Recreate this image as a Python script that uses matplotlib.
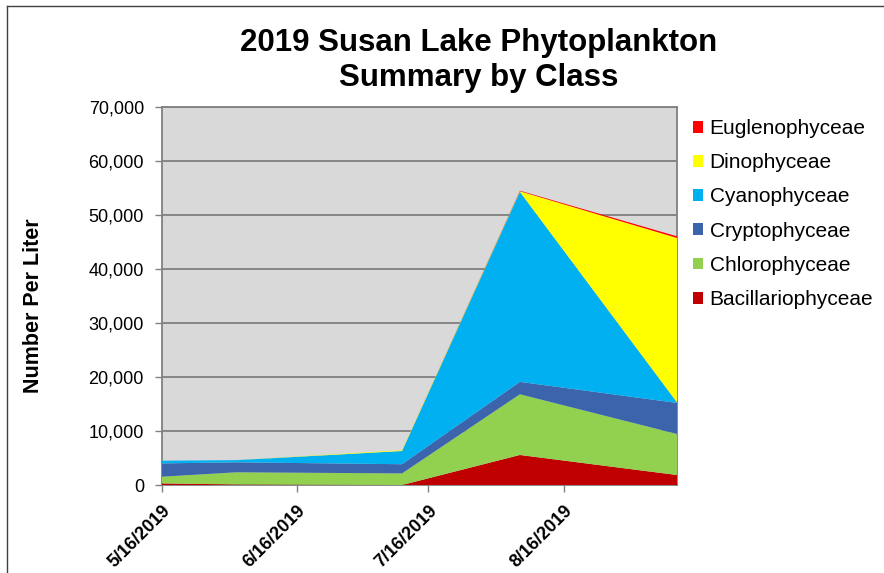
import matplotlib
matplotlib.use("Agg")
import matplotlib.pyplot as plt
from matplotlib.patches import Patch
from matplotlib.lines import Line2D
import datetime as dt

plt.rcParams['font.family'] = ['Liberation Sans', 'DejaVu Sans']

dates = ["2019-05-16", "2019-06-02", "2019-07-10", "2019-08-06", "2019-09-11"]
classes = ["Bacillariophyceae", "Chlorophyceae", "Cryptophyceae",
           "Cyanophyceae", "Dinophyceae", "Euglenophyceae"]
bacillariophyceae = [300, 100, 0, 5560, 1850]
chlorophyceae = [1240, 2250, 2150, 11240, 7600]
cryptophyceae = [2460, 1850, 1700, 2300, 5750]
cyanophyceae = [500, 400, 2450, 35200, 100]
dinophyceae = [0, 0, 150, 100, 30450]
euglenophyceae = [0, 0, 0, 100, 300]
colors = ["#C00000", "#92D050", "#3B64AD", "#00B0F0", "#FFFF00", "#FF0000"]
tick_dates = ["2019-05-16", "2019-06-16", "2019-07-16", "2019-08-16"]
tick_labels = ["5/16/2019", "6/16/2019", "7/16/2019", "8/16/2019"]

x = [dt.datetime.strptime(d, "%Y-%m-%d") for d in dates]
series = [bacillariophyceae, chlorophyceae, cryptophyceae,
          cyanophyceae, dinophyceae, euglenophyceae]

fig = plt.figure(figsize=(8.84, 5.73), dpi=100)
ax = fig.add_axes([162/884, 1-485/573, (677-162)/884, (485-107)/573])
ax.set_facecolor("#D9D9D9")

ax.stackplot(x, *series, colors=colors, labels=classes, linewidth=0, zorder=3)

ax.set_ylim(0, 70000)
ax.set_yticks(range(0, 70001, 10000))
ax.set_yticklabels([f"{v:,}" for v in range(0, 70001, 10000)], fontsize=13)
ax.set_xlim(x[0], x[-1])
ax.set_xticks([dt.datetime.strptime(d, "%Y-%m-%d") for d in tick_dates])
ax.set_xticklabels(tick_labels, fontsize=13, fontweight="bold",
                   rotation=45, ha="right", va="top", rotation_mode="anchor")
ax.yaxis.grid(True, color="#808080", linewidth=1.3, zorder=1)
ax.set_axisbelow(True)
ax.tick_params(axis="both", direction="out", length=5, width=1, color="#808080", colors="black")
ax.tick_params(axis="y", pad=8)
ax.tick_params(axis="x", pad=7)
ax.tick_params(axis="both", color="#808080")
for s in ax.spines.values():
    s.set_color("#808080")
    s.set_linewidth(1.3)

ax.set_ylabel("Number Per Liter", fontsize=15.5, fontweight="bold")
ax.yaxis.set_label_coords(-0.23, 0.475)

fig.text(479/884, 1-43/573, "2019 Susan Lake Phytoplankton", ha="center", va="center",
         fontsize=22.5, fontweight="bold")
fig.text(479/884, 1-78/573, "Summary by Class", ha="center", va="center",
         fontsize=22.5, fontweight="bold")

handles = [Patch(facecolor=c, edgecolor="none") for c in colors][::-1]
leg = fig.legend(handles, classes[::-1], loc="upper left",
                 bbox_to_anchor=(693/884, 1-119/573), frameon=False, fontsize=15,
                 handlelength=0.5, handleheight=0.5, handletextpad=0.3,
                 labelspacing=0.73, borderaxespad=0, borderpad=0)

fig.add_artist(Line2D([7/884, 7/884], [0, 1-6/573], transform=fig.transFigure,
                      color="#404040", linewidth=1))
fig.add_artist(Line2D([7/884, 1], [1-6/573, 1-6/573], transform=fig.transFigure,
                      color="#404040", linewidth=1))

fig.savefig("out.png", dpi=100, facecolor="white")
